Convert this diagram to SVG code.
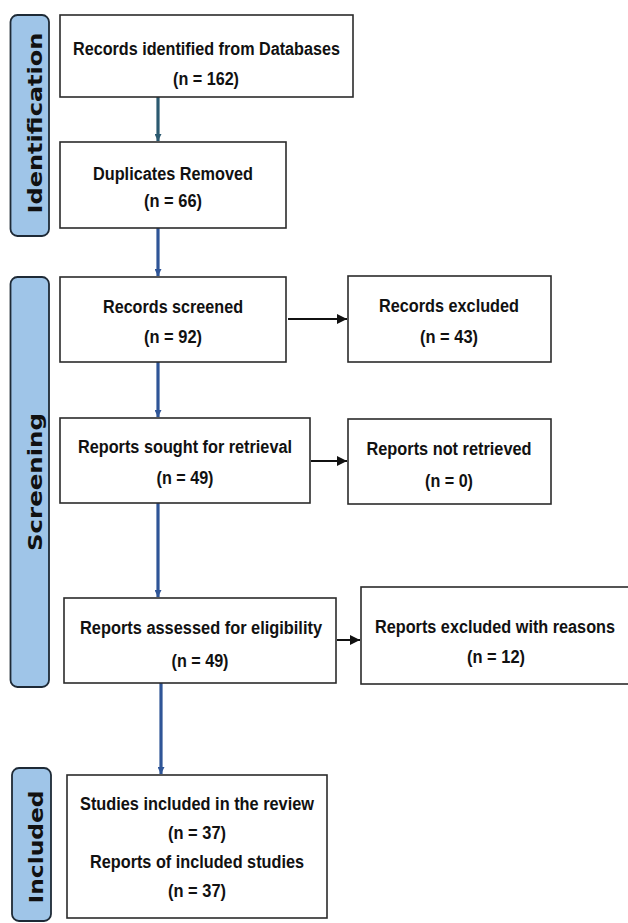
<svg xmlns="http://www.w3.org/2000/svg" width="628" height="923" viewBox="0 0 628 923">
<style>
.bg{fill:#ffffff}
.box{fill:#ffffff;stroke:#2b2b2b;stroke-width:1.6}
.phase{fill:#9fc5e8;stroke:#1e2a36;stroke-width:1.8}
.t{font-family:"Liberation Sans Narrow","Liberation Sans",Arial,sans-serif;font-weight:bold;font-size:18px;fill:#111;text-anchor:middle}
.pt{font-family:"DejaVu Sans","Liberation Sans",sans-serif;font-weight:bold;font-size:19px;fill:#111;text-anchor:middle}
.v{stroke:#2f5597;stroke-width:3.2;fill:none}
.v0{stroke:#2c5a70;stroke-width:3.2;fill:none}
.h{stroke:#111;stroke-width:2;fill:none}
</style>
<defs>
<marker id="ah" viewBox="0 0 10 10" refX="10" refY="5" markerWidth="10" markerHeight="10" markerUnits="userSpaceOnUse" orient="auto"><path d="M0,0 L10,5 L0,10 z" fill="#111"/></marker>
<marker id="av" viewBox="0 0 10 10" refX="10" refY="5" markerWidth="7" markerHeight="7" markerUnits="userSpaceOnUse" orient="auto"><path d="M0,0 L10,5 L0,10 z" fill="#2f5597"/></marker>
<marker id="av0" viewBox="0 0 10 10" refX="10" refY="5" markerWidth="7" markerHeight="7" markerUnits="userSpaceOnUse" orient="auto"><path d="M0,0 L10,5 L0,10 z" fill="#2c5a70"/></marker>
</defs>
<rect class="bg" x="0" y="0" width="628" height="923"/>

<g id="phase-identification">
<rect class="phase" x="10.5" y="15" width="38.5" height="221" rx="7"/>
<text class="pt" transform="translate(42,123) rotate(-90)" textLength="181" lengthAdjust="spacingAndGlyphs">Identification</text>
</g>
<g id="phase-screening">
<rect class="phase" x="10.5" y="277" width="38.5" height="410" rx="7"/>
<text class="pt" transform="translate(42,482) rotate(-90)" textLength="138" lengthAdjust="spacingAndGlyphs">Screening</text>
</g>
<g id="phase-included">
<rect class="phase" x="12" y="768" width="39" height="153" rx="7"/>
<text class="pt" transform="translate(43,847) rotate(-90)" textLength="113" lengthAdjust="spacingAndGlyphs">Included</text>
</g>

<g id="connectors">
<line class="v0" x1="158" y1="97" x2="158" y2="141" marker-end="url(#av0)"/>
<line class="v" x1="158" y1="228" x2="158" y2="276" marker-end="url(#av)"/>
<line class="v" x1="158" y1="362" x2="158" y2="417" marker-end="url(#av)"/>
<line class="v" x1="158" y1="503" x2="158" y2="597" marker-end="url(#av)"/>
<line class="v" x1="161" y1="683" x2="161" y2="774" marker-end="url(#av)"/>
<line class="h" x1="288" y1="319" x2="347" y2="319" marker-end="url(#ah)"/>
<line class="h" x1="311" y1="461" x2="347" y2="461" marker-end="url(#ah)"/>
<line class="h" x1="337" y1="640" x2="360" y2="640" marker-end="url(#ah)"/>
</g>

<g id="n-identified">
<rect class="box" x="60" y="15" width="293" height="82"/>
<text class="t" x="206.5" y="55" textLength="267" lengthAdjust="spacingAndGlyphs">Records identified from Databases</text>
<text class="t" x="206" y="85" textLength="66" lengthAdjust="spacingAndGlyphs">(n = 162)</text>
</g>
<g id="n-duplicates">
<rect class="box" x="60" y="142" width="226" height="86"/>
<text class="t" x="173" y="180" textLength="160" lengthAdjust="spacingAndGlyphs">Duplicates Removed</text>
<text class="t" x="173" y="207" textLength="58" lengthAdjust="spacingAndGlyphs">(n = 66)</text>
</g>
<g id="n-screened">
<rect class="box" x="60" y="277" width="226" height="85"/>
<text class="t" x="173" y="313" textLength="140" lengthAdjust="spacingAndGlyphs">Records screened</text>
<text class="t" x="173" y="343" textLength="58" lengthAdjust="spacingAndGlyphs">(n = 92)</text>
</g>
<g id="n-excluded">
<rect class="box" x="348" y="276" width="203" height="86"/>
<text class="t" x="449" y="312" textLength="140" lengthAdjust="spacingAndGlyphs">Records excluded</text>
<text class="t" x="449" y="343" textLength="58" lengthAdjust="spacingAndGlyphs">(n = 43)</text>
</g>
<g id="n-sought">
<rect class="box" x="60" y="418" width="250" height="85"/>
<text class="t" x="185" y="453" textLength="214" lengthAdjust="spacingAndGlyphs">Reports sought for retrieval</text>
<text class="t" x="185" y="484" textLength="57" lengthAdjust="spacingAndGlyphs">(n = 49)</text>
</g>
<g id="n-notretrieved">
<rect class="box" x="348" y="419" width="203" height="85"/>
<text class="t" x="449" y="455" textLength="165" lengthAdjust="spacingAndGlyphs">Reports not retrieved</text>
<text class="t" x="449" y="487" textLength="48" lengthAdjust="spacingAndGlyphs">(n = 0)</text>
</g>
<g id="n-assessed">
<rect class="box" x="64" y="598" width="272" height="85"/>
<text class="t" x="201" y="634" textLength="242" lengthAdjust="spacingAndGlyphs">Reports assessed for eligibility</text>
<text class="t" x="200" y="667" textLength="57" lengthAdjust="spacingAndGlyphs">(n = 49)</text>
</g>
<g id="n-reasons">
<rect class="box" x="361" y="587" width="270" height="97"/>
<text class="t" x="495" y="633" textLength="240" lengthAdjust="spacingAndGlyphs">Reports excluded with reasons</text>
<text class="t" x="496" y="663" textLength="58" lengthAdjust="spacingAndGlyphs">(n = 12)</text>
</g>
<g id="n-included">
<rect class="box" x="67" y="775" width="260" height="143"/>
<text class="t" x="197" y="810" textLength="234" lengthAdjust="spacingAndGlyphs">Studies included in the review</text>
<text class="t" x="197" y="839" textLength="58" lengthAdjust="spacingAndGlyphs">(n = 37)</text>
<text class="t" x="197" y="868" textLength="214" lengthAdjust="spacingAndGlyphs">Reports of included studies</text>
<text class="t" x="197" y="897" textLength="58" lengthAdjust="spacingAndGlyphs">(n = 37)</text>
</g>
</svg>
